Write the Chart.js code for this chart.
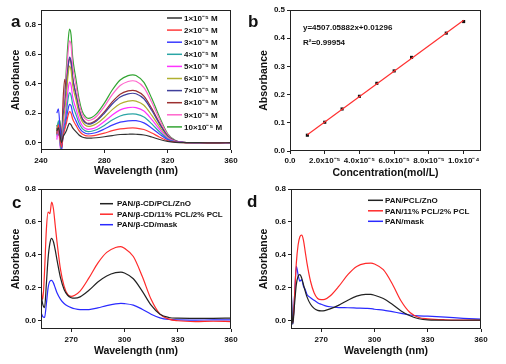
<!DOCTYPE html>
<html>
<head>
<meta charset="utf-8">
<script src="https://cdn.jsdelivr.net/npm/chart.js@4.4.0/dist/chart.umd.min.js"></script>
<style>
  html, body { margin: 0; padding: 0; background: #fff; }
  #page { position: relative; width: 506px; height: 364px; overflow: hidden; }
  canvas { position: absolute; }
</style>
</head>
<body>
<div id="page">
  <canvas id="chart-a" width="245" height="182" style="left:0;top:0"></canvas>
  <canvas id="chart-b" width="261" height="182" style="left:245px;top:0"></canvas>
  <canvas id="chart-c" width="245" height="182" style="left:0;top:182px"></canvas>
  <canvas id="chart-d" width="261" height="182" style="left:245px;top:182px"></canvas>
</div>
<script>
// ---- Panel a: spectra at 10 concentrations ----
const wlA = [250, 251, 252, 253, 254, 255, 256, 257, 258, 259, 260, 262, 264, 266, 268, 270, 272, 275, 280, 285, 290, 295, 298, 300, 305, 310, 315, 320, 325, 330, 340, 350, 360];
const concLabels = ['1×10⁻⁵ M', '2×10⁻⁵ M', '3×10⁻⁵ M', '4×10⁻⁵ M', '5×10⁻⁵ M', '6×10⁻⁵ M', '7×10⁻⁵ M', '8×10⁻⁵ M', '9×10⁻⁵ M', '10×10⁻⁵ M'];
const absA1 = [0.08, 0.10, 0.05, 0.00, 0.04, 0.06, 0.08, 0.11, 0.13, 0.12, 0.10, 0.075, 0.052, 0.038, 0.032, 0.030, 0.031, 0.033, 0.040, 0.048, 0.055, 0.057, 0.058, 0.057, 0.052, 0.038, 0.021, 0.008, 0.002, 0.000, 0.000, -0.002, 0.000];
const absA2 = [0.06, 0.12, 0.02, -0.03, 0.05, 0.09, 0.13, 0.18, 0.21, 0.20, 0.16, 0.119, 0.081, 0.058, 0.048, 0.045, 0.046, 0.051, 0.064, 0.081, 0.093, 0.099, 0.100, 0.099, 0.089, 0.065, 0.037, 0.013, 0.003, 0.000, 0.000, -0.002, 0.000];
const absA3 = [0.20, 0.23, 0.10, -0.04, 0.05, 0.10, 0.16, 0.22, 0.26, 0.25, 0.20, 0.150, 0.104, 0.076, 0.064, 0.060, 0.062, 0.069, 0.092, 0.119, 0.139, 0.148, 0.150, 0.149, 0.134, 0.098, 0.056, 0.020, 0.005, 0.001, 0.000, 0.000, 0.000];
const absA4 = [0.05, 0.15, 0.00, -0.05, 0.08, 0.13, 0.20, 0.29, 0.34, 0.32, 0.26, 0.194, 0.133, 0.096, 0.080, 0.075, 0.077, 0.087, 0.117, 0.153, 0.181, 0.193, 0.195, 0.193, 0.174, 0.127, 0.072, 0.025, 0.006, 0.001, 0.000, 0.000, 0.000];
const absA5 = [0.02, 0.10, -0.02, -0.06, 0.10, 0.16, 0.25, 0.35, 0.41, 0.39, 0.31, 0.234, 0.160, 0.116, 0.096, 0.090, 0.093, 0.105, 0.143, 0.188, 0.222, 0.237, 0.240, 0.238, 0.214, 0.156, 0.089, 0.031, 0.007, 0.001, 0.000, 0.000, 0.000];
const absA6 = [0.08, 0.12, 0.04, -0.02, 0.14, 0.22, 0.32, 0.45, 0.52, 0.49, 0.39, 0.295, 0.200, 0.143, 0.118, 0.110, 0.114, 0.128, 0.171, 0.224, 0.264, 0.282, 0.285, 0.282, 0.254, 0.185, 0.105, 0.037, 0.009, 0.001, 0.000, 0.000, 0.000];
const absA7 = [0.06, 0.14, 0.02, 0.05, 0.18, 0.26, 0.38, 0.50, 0.58, 0.55, 0.44, 0.330, 0.225, 0.161, 0.134, 0.125, 0.129, 0.146, 0.199, 0.262, 0.310, 0.331, 0.335, 0.332, 0.298, 0.218, 0.124, 0.044, 0.010, 0.002, 0.000, 0.000, 0.000];
const absA8 = [0.10, 0.05, 0.12, 0.02, 0.30, 0.43, 0.36, 0.50, 0.57, 0.54, 0.44, 0.328, 0.227, 0.165, 0.139, 0.130, 0.135, 0.153, 0.209, 0.276, 0.328, 0.351, 0.355, 0.351, 0.316, 0.231, 0.131, 0.046, 0.011, 0.002, 0.000, 0.000, 0.000];
const absA9 = [0.04, 0.10, 0.00, -0.05, 0.22, 0.32, 0.46, 0.60, 0.69, 0.66, 0.52, 0.393, 0.269, 0.193, 0.161, 0.150, 0.155, 0.177, 0.245, 0.326, 0.388, 0.415, 0.420, 0.416, 0.374, 0.273, 0.155, 0.055, 0.013, 0.002, 0.000, 0.000, 0.000];
const absA10 = [0.12, 0.06, 0.15, 0.00, 0.20, 0.33, 0.50, 0.67, 0.77, 0.73, 0.58, 0.437, 0.298, 0.213, 0.177, 0.165, 0.171, 0.195, 0.268, 0.357, 0.425, 0.455, 0.460, 0.455, 0.409, 0.299, 0.170, 0.060, 0.014, 0.002, 0.000, 0.000, 0.000];
const colorsA = ['#333333', '#ff3b3b', '#3a3aff', '#2aa5a5', '#ff33ff', '#b0b030', '#40409c', '#9c3030', '#ff66cc', '#33a533'];
const xTicksA = [240, 280, 320, 360];
const yTicksA = [0.0, 0.2, 0.4, 0.6, 0.8];

// ---- Panel b: calibration line ----
const concB = [1e-5, 2e-5, 3e-5, 4e-5, 5e-5, 6e-5, 7e-5, 9e-5, 1e-4];
const absB = [0.056, 0.102, 0.149, 0.194, 0.240, 0.284, 0.332, 0.418, 0.459];
const fitX = [1e-5, 1e-4];
const fitY = [0.0580, 0.4637];
const xTicksB = [0, 2e-5, 4e-5, 6e-5, 8e-5, 1e-4];
const xTickLabelsB = ['0.0', '2.0x10⁻⁵', '4.0x10⁻⁵', '6.0x10⁻⁵', '8.0x10⁻⁵', '1.0x10⁻⁴'];
const yTicksB = [0.0, 0.1, 0.2, 0.3, 0.4, 0.5];

// ---- Panel c: beta-CD fibre membranes ----
const wlC = [253, 254, 255, 256, 257, 258, 259, 260, 261, 262, 264, 266, 268, 270, 272, 275, 280, 285, 290, 295, 298, 300, 305, 310, 315, 320, 325, 330, 340, 350, 360];
const labelsC = ['PAN/β-CD/PCL/ZnO', 'PAN/β-CD/11% PCL/2% PCL', 'PAN/β-CD/mask'];
const cBlack = [0.16, 0.10, 0.08, 0.22, 0.38, 0.47, 0.50, 0.48, 0.43, 0.37, 0.26, 0.19, 0.155, 0.14, 0.137, 0.145, 0.185, 0.235, 0.272, 0.292, 0.295, 0.29, 0.255, 0.18, 0.095, 0.04, 0.02, 0.016, 0.015, 0.015, 0.016];
const cRed = [0.20, 0.13, 0.30, 0.55, 0.66, 0.65, 0.72, 0.68, 0.58, 0.48, 0.31, 0.21, 0.16, 0.148, 0.155, 0.18, 0.26, 0.35, 0.415, 0.445, 0.45, 0.44, 0.39, 0.27, 0.13, 0.04, 0.01, 0.0, -0.005, -0.003, -0.005];
const cBlue = [0.05, 0.025, 0.02, 0.10, 0.20, 0.24, 0.245, 0.23, 0.20, 0.17, 0.13, 0.105, 0.09, 0.08, 0.073, 0.068, 0.068, 0.078, 0.092, 0.102, 0.105, 0.104, 0.095, 0.07, 0.04, 0.018, 0.008, 0.005, 0.004, 0.005, 0.005];

// ---- Panel d: fibre membranes without beta-CD ----
const wlD = [253, 254, 255, 256, 257, 258, 259, 260, 261, 262, 264, 266, 268, 270, 272, 275, 280, 285, 290, 295, 298, 300, 305, 310, 315, 320, 325, 330, 340, 350, 360];
const labelsD = ['PAN/PCL/ZnO', 'PAN/11% PCL/2% PCL', 'PAN/mask'];
const dBlack = [0.20, -0.02, 0.10, 0.22, 0.27, 0.28, 0.26, 0.22, 0.18, 0.145, 0.10, 0.075, 0.063, 0.06, 0.062, 0.072, 0.095, 0.125, 0.15, 0.16, 0.16, 0.155, 0.135, 0.10, 0.06, 0.03, 0.012, 0.005, 0.003, 0.003, 0.004];
const dRed = [0.05, -0.01, 0.15, 0.35, 0.46, 0.51, 0.52, 0.49, 0.42, 0.35, 0.24, 0.17, 0.135, 0.128, 0.13, 0.15, 0.21, 0.28, 0.33, 0.348, 0.35, 0.345, 0.31, 0.225, 0.12, 0.05, 0.02, 0.012, 0.006, 0.004, 0.003];
const dBlue = [0.23, -0.02, 0.15, 0.33, 0.28, 0.24, 0.25, 0.21, 0.19, 0.16, 0.14, 0.125, 0.11, 0.10, 0.092, 0.085, 0.08, 0.079, 0.077, 0.075, 0.074, 0.07, 0.065, 0.055, 0.045, 0.035, 0.03, 0.028, 0.022, 0.015, 0.01];
const colorsCD = ['#222222', '#ff2a2a', '#2a2aff'];
const xTicksCD = [270, 300, 330, 360];
const yTicksCD = [0.0, 0.2, 0.4, 0.6, 0.8];

const FONT = 'Arial, "Liberation Sans", sans-serif';
const tickFont = { family: FONT, size: 8, weight: 'bold' };
const titleFont = { family: FONT, size: 10.5, weight: 'bold' };

// pair x and y arrays into points
function toPoints(xs, ys) {
    return xs.map((x, i) => ({ x: x, y: ys[i] }));
}

function lineSet(label, xs, ys, color) {
    return {
        label: label,
        data: toPoints(xs, ys),
        borderColor: color,
        backgroundColor: color,
        borderWidth: 1.2,
        pointRadius: 0,
        cubicInterpolationMode: 'monotone'
    };
}

// box around the plot area
const framePlugin = {
    id: 'frame',
    afterDatasetsDraw(chart) {
        const { ctx, chartArea: a } = chart;
        ctx.save();
        ctx.strokeStyle = '#222';
        ctx.lineWidth = 1;
        ctx.strokeRect(Math.round(a.left) + 0.5, Math.round(a.top) + 0.5,
            Math.round(a.right - a.left) - 1, Math.round(a.bottom - a.top) - 1);
        ctx.restore();
    }
};

// legend drawn inside the plot area
const boxLegendPlugin = {
    id: 'boxLegend',
    afterDraw(chart, args, opts) {
        if (opts.x === undefined) return;
        const ctx = chart.ctx;
        ctx.save();
        ctx.font = 'bold 8px ' + FONT;
        ctx.textBaseline = 'middle';
        ctx.fillStyle = '#111';
        chart.data.datasets.forEach((ds, i) => {
            const y = opts.y + i * opts.gap;
            ctx.strokeStyle = ds.borderColor;
            ctx.lineWidth = 1.5;
            ctx.beginPath();
            ctx.moveTo(opts.x, y);
            ctx.lineTo(opts.x + opts.lineLen, y);
            ctx.stroke();
            ctx.fillText(ds.label, opts.x + opts.lineLen + opts.textGap, y + 0.5);
        });
        ctx.restore();
    }
};

// panel letters and equation notes
const notesPlugin = {
    id: 'notes',
    afterDraw(chart, args, opts) {
        if (!opts.items) return;
        const ctx = chart.ctx;
        ctx.save();
        ctx.fillStyle = '#111';
        opts.items.forEach(item => {
            ctx.font = item.font;
            ctx.textBaseline = item.baseline || 'alphabetic';
            ctx.fillText(item.text, item.x, item.y);
        });
        ctx.restore();
    }
};

function makeOptions(p) {
    return {
        responsive: false,
        animation: false,
        layout: { padding: { left: 0, top: p.top, right: p.width - p.right, bottom: 0 } },
        plugins: {
            legend: { display: false },
            tooltip: { enabled: false },
            boxLegend: p.legend || {},
            notes: { items: p.notes }
        },
        scales: {
            x: {
                type: 'linear',
                min: p.xMin,
                max: p.xMax,
                afterBuildTicks: s => { s.ticks = p.xTicks.map(v => ({ value: v })); },
                afterFit: s => { s.height = p.height - p.bottom; },
                ticks: { color: '#111', font: tickFont, padding: p.xTickPad, maxRotation: 0, autoSkip: false, callback: p.xFormat },
                grid: { display: true, drawOnChartArea: false, tickLength: 3, color: '#222' },
                border: { display: false },
                title: { display: true, text: p.xTitle, color: '#111', font: titleFont, padding: { top: 0, bottom: p.xTitlePad } }
            },
            y: {
                type: 'linear',
                min: p.yMin,
                max: p.yMax,
                afterBuildTicks: s => { s.ticks = p.yTicks.map(v => ({ value: v })); },
                afterFit: s => { s.width = p.left; },
                ticks: { color: '#111', font: tickFont, padding: 2, callback: v => v.toFixed(1) },
                grid: { display: true, drawOnChartArea: false, tickLength: 3, color: '#222' },
                border: { display: false },
                title: { display: true, text: 'Absorbance', color: '#111', font: titleFont, padding: { top: p.yTitlePad, bottom: 0 } }
            }
        }
    };
}

const letterFont = 'bold 17px ' + FONT;
const noteFont = 'bold 8px ' + FONT;

// Panel a
const seriesA = [absA1, absA2, absA3, absA4, absA5, absA6, absA7, absA8, absA9, absA10];
new Chart(document.getElementById('chart-a'), {
    type: 'line',
    data: { datasets: seriesA.map((ys, i) => lineSet(concLabels[i], wlA, ys, colorsA[i])) },
    options: makeOptions({
        width: 245, height: 182, left: 41, right: 231, top: 10, bottom: 150,
        xMin: 240, xMax: 360, xTicks: xTicksA, xFormat: v => String(v), xTickPad: 3, xTitle: 'Wavelength (nm)', xTitlePad: 5,
        yMin: -0.05, yMax: 0.9, yTicks: yTicksA, yTitlePad: 10,
        legend: { x: 167, y: 18, gap: 12.1, lineLen: 15, textGap: 2 },
        notes: [{ text: 'a', x: 11, y: 27, font: letterFont }]
    }),
    plugins: [framePlugin, boxLegendPlugin, notesPlugin]
});

// Panel b
new Chart(document.getElementById('chart-b'), {
    type: 'line',
    data: {
        datasets: [
            { label: 'Fit', data: toPoints(fitX, fitY), borderColor: '#ff3030', borderWidth: 1.2, pointRadius: 0 },
            { label: 'Absorbance', data: toPoints(concB, absB), showLine: false, pointStyle: 'rect', pointRadius: 2.2, backgroundColor: '#111', borderColor: '#111', borderWidth: 0 }
        ]
    },
    options: makeOptions({
        width: 261, height: 182, left: 45, right: 236, top: 10, bottom: 151,
        xMin: 0, xMax: 1.1e-4, xTicks: xTicksB, xFormat: (v, i) => xTickLabelsB[i], xTickPad: 2, xTitle: 'Concentration(mol/L)', xTitlePad: 3,
        yMin: 0, yMax: 0.5, yTicks: yTicksB, yTitlePad: 13,
        notes: [
            { text: 'b', x: 3, y: 27, font: letterFont },
            { text: 'y=4507.05882x+0.01296', x: 58, y: 28, font: noteFont, baseline: 'middle' },
            { text: 'R²=0.99954', x: 58, y: 43, font: noteFont, baseline: 'middle' }
        ]
    }),
    plugins: [framePlugin, notesPlugin]
});

// Panel c
const seriesC = [cBlack, cRed, cBlue];
new Chart(document.getElementById('chart-c'), {
    type: 'line',
    data: { datasets: seriesC.map((ys, i) => lineSet(labelsC[i], wlC, ys, colorsCD[i])) },
    options: makeOptions({
        width: 245, height: 182, left: 41, right: 231, top: 7, bottom: 147,
        xMin: 253, xMax: 360, xTicks: xTicksCD, xFormat: v => String(v), xTickPad: 3, xTitle: 'Wavelength (nm)', xTitlePad: 7,
        yMin: -0.05, yMax: 0.8, yTicks: yTicksCD, yTitlePad: 10,
        legend: { x: 100, y: 21.7, gap: 10.5, lineLen: 13, textGap: 4 },
        notes: [{ text: 'c', x: 12, y: 26, font: letterFont }]
    }),
    plugins: [framePlugin, boxLegendPlugin, notesPlugin]
});

// Panel d
const seriesD = [dBlack, dRed, dBlue];
new Chart(document.getElementById('chart-d'), {
    type: 'line',
    data: { datasets: seriesD.map((ys, i) => lineSet(labelsD[i], wlD, ys, colorsCD[i])) },
    options: makeOptions({
        width: 261, height: 182, left: 46, right: 236, top: 7, bottom: 147,
        xMin: 253, xMax: 360, xTicks: xTicksCD, xFormat: v => String(v), xTickPad: 3, xTitle: 'Wavelength (nm)', xTitlePad: 7,
        yMin: -0.05, yMax: 0.8, yTicks: yTicksCD, yTitlePad: 13,
        legend: { x: 123, y: 18.3, gap: 10.5, lineLen: 15, textGap: 2 },
        notes: [{ text: 'd', x: 2, y: 25, font: letterFont }]
    }),
    plugins: [framePlugin, boxLegendPlugin, notesPlugin]
});
</script>
</body>
</html>
